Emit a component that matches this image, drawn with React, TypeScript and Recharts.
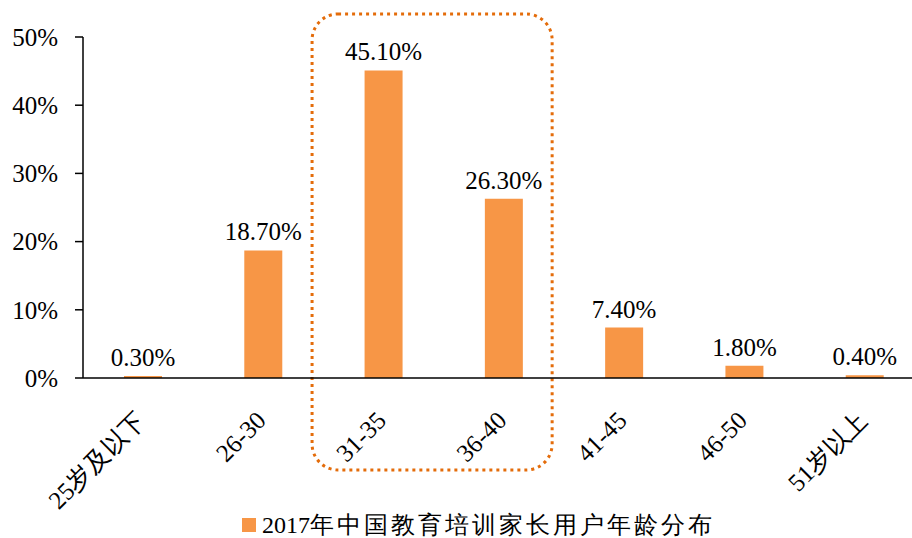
import { BarChart, Bar, XAxis, YAxis, LabelList, Legend, ReferenceArea } from 'recharts';

const ageGroups = ['25岁及以下', '26-30', '31-35', '36-40', '41-45', '46-50', '51岁以上'];
const shares = [0.3, 18.7, 45.1, 26.3, 7.4, 1.8, 0.4];
const yTicks = [0, 10, 20, 30, 40, 50];
const seriesName = '2017年中国教育培训家长用户年龄分布';
const highlight = ['31-35', '36-40'];

const data = ageGroups.map((age, i) => ({ age, share: shares[i] }));

const serif = '"Liberation Serif", "Times New Roman", serif';

function AgeTick(props: any) {
    const { x, y, payload } = props;
    return (
        <g transform={`translate(${x + 4},${y + 36})`}>
            <text
                transform="rotate(-45)"
                textAnchor="end"
                fontSize={25}
                fontFamily={serif}
                fill="#000"
            >
                {payload.value}
            </text>
        </g>
    );
}

function HighlightBox(props: any) {
    const { x, y, width, height } = props;
    return (
        <rect
            x={x - 11.5}
            y={y - 23}
            width={width - 0.5}
            height={height + 23 + 92}
            rx={26}
            ry={26}
            fill="none"
            stroke="#E46C0A"
            strokeWidth={3}
            strokeDasharray="3 4"
        />
    );
}

function AgeLegend() {
    const m = seriesName.match(/^(\d+)(.*)$/);
    return (
        <div style={{ display: 'flex', alignItems: 'center', height: 28, lineHeight: '26px', fontFamily: serif, fontSize: 24, color: '#000' }}>
            <span style={{ width: 14, height: 14, background: '#F79646', marginRight: 6, display: 'inline-block' }} />
            <span>{m ? m[1] : seriesName}</span>
            <span style={{ letterSpacing: 3 }}>{m ? m[2] : ''}</span>
        </div>
    );
}

export default function App() {
    return (
        <div style={{ position: 'absolute', left: 0, top: 0, width: 912, height: 538, overflow: 'hidden', background: '#fff' }}>
            <BarChart width={925} height={538} data={data} margin={{ top: 37, right: 0, left: 0, bottom: 72 }}>
                <YAxis
                    width={83}
                    domain={[0, 50]}
                    ticks={yTicks}
                    tickFormatter={(v) => `${v}%`}
                    tickSize={8}
                    tickMargin={17}
                    axisLine={{ stroke: '#000', strokeWidth: 1.5 }}
                    tickLine={{ stroke: '#000', strokeWidth: 1.5 }}
                    tick={{ fontSize: 25, fontFamily: serif, fill: '#000' }}
                />
                <XAxis
                    dataKey="age"
                    height={60}
                    interval={0}
                    tickLine={false}
                    axisLine={{ stroke: '#000', strokeWidth: 1.5 }}
                    tick={<AgeTick />}
                />
                <ReferenceArea
                    x1={highlight[0]}
                    x2={highlight[1]}
                    y1={0}
                    y2={50}
                    ifOverflow="visible"
                    shape={<HighlightBox />}
                />
                <Bar dataKey="share" name={seriesName} fill="#F79646" barSize={38} isAnimationActive={false}>
                    <LabelList
                        dataKey="share"
                        position="top"
                        offset={10}
                        formatter={(v: any) => `${Number(v).toFixed(2)}%`}
                        style={{ fontSize: 25, fontFamily: serif, fill: '#000' }}
                    />
                </Bar>
                <Legend
                    verticalAlign="bottom"
                    content={<AgeLegend />}
                    wrapperStyle={{ left: 242, bottom: -1, width: 'auto' }}
                />
            </BarChart>
        </div>
    );
}
